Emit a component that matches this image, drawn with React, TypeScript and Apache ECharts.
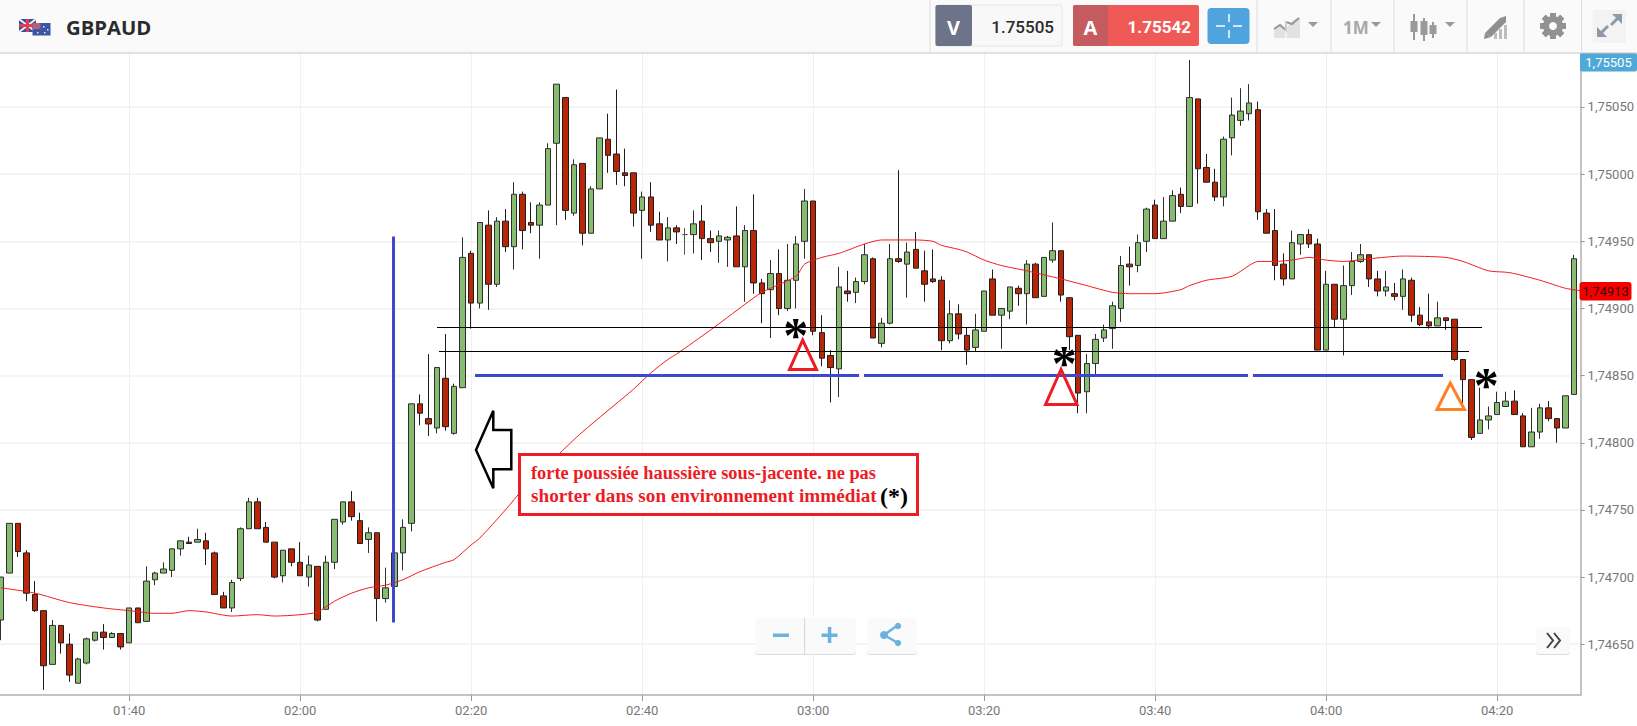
import React, { useEffect, useRef } from "react";
import * as echarts from "echarts";

const symbolName = "GBPAUD";
const bidPrice = "1.75505";
const askPrice = "1.75542";
const bidTag = "1,75505";
const lastTag = "1,74913";
const noteLine1 = "forte poussiée haussière sous-jacente. ne pas";
const noteLine2 = "shorter dans son environnement immédiat";
const firstMinute = 85; // 01:25
const timeTicks = [100, 120, 140, 160, 180, 200, 220, 240, 260];
const priceTicks = [1.7465, 1.747, 1.7475, 1.748, 1.7485, 1.749, 1.7495, 1.75, 1.7505];

// [open, close, low, high] in 1e-5 price units, one candle per minute from 01:25
const candleRows = [
  [174668,174700,174653,174700],[174703,174740,174703,174740],[174740,174719,174715,174740],[174718,174688,174682,174720],
  [174687,174675,174674,174697],[174675,174634,174616,174675],[174635,174664,174635,174668],[174664,174651,174643,174664],
  [174650,174627,174622,174658],[174621,174639,174621,174640],[174636,174654,174635,174655],[174653,174659,174652,174659],
  [174659,174655,174646,174665],[174655,174658,174655,174659],[174658,174648,174646,174658],[174651,174677,174651,174677],
  [174677,174666,174666,174677],[174667,174697,174667,174708],[174698,174703,174694,174704],[174703,174706,174703,174711],
  [174705,174721,174700,174721],[174721,174727,174716,174727],[174726,174725,174725,174730],[174726,174728,174726,174736],
  [174727,174721,174709,174733],[174718,174687,174687,174719],[174686,174677,174677,174689],[174677,174696,174674,174698],
  [174699,174736,174697,174737],[174736,174756,174736,174759],[174756,174736,174736,174759],[174737,174726,174726,174741],
  [174726,174700,174699,174726],[174701,174720,174696,174720],[174721,174711,174708,174721],[174711,174701,174701,174726],
  [174700,174709,174693,174716],[174708,174668,174667,174708],[174676,174711,174676,174716],[174711,174743,174706,174743],
  [174741,174756,174739,174756],[174756,174745,174742,174764],[174742,174725,174725,174748],[174728,174733,174718,174737],
  [174733,174684,174667,174733],[174684,174692,174681,174707],[174693,174718,174693,174739],[174718,174737,174705,174743],
  [174740,174829,174734,174829],[174829,174822,174813,174836],[174818,174814,174805,174866],[174811,174856,174807,174856],
  [174848,174812,174809,174881],[174807,174842,174806,174844],[174841,174938,174841,174953],[174941,174904,174885,174943],
  [174904,174964,174900,174964],[174962,174918,174899,174973],[174918,174965,174916,174968],[174965,174946,174942,174974],
  [174946,174985,174929,174994],[174985,174958,174944,174987],[174964,174962,174956,174979],[174962,174977,174937,174979],
  [174977,175019,174977,175023],[175023,175067,174962,175067],[175057,174973,174966,175057],[174971,175007,174969,175011],
  [175008,174956,174947,175008],[174956,174989,174956,174991],[174989,175027,174989,175027],[175026,175014,175001,175045],
  [175015,175002,174992,175063],[175001,174999,174991,175019],[175001,174971,174961,175001],[174973,174983,174937,174987],
  [174983,174962,174957,174994],[174963,174951,174951,174972],[174951,174960,174935,174968],[174960,174957,174948,174962],
  [174955,174955,174940,174960],[174955,174963,174941,174973],[174965,174952,174936,174977],[174952,174949,174942,174958],
  [174950,174954,174934,174958],[174951,174953,174931,174954],[174954,174931,174931,174976],[174931,174958,174905,174962],
  [174958,174919,174911,174985],[174919,174911,174889,174922],[174914,174926,174878,174936],[174926,174900,174895,174944],
  [174900,174921,174898,174948],[174921,174948,174900,174954],[174950,174980,174937,174989],[174980,174883,174880,174980],
  [174882,174863,174857,174895],[174865,174856,174830,174869],[174855,174916,174834,174931],[174913,174911,174905,174928],
  [174912,174920,174904,174923],[174920,174940,174918,174948],[174937,174878,174878,174938],[174874,174889,174871,174893],
  [174889,174937,174888,174948],[174937,174935,174934,175003],[174933,174942,174908,174949],[174944,174930,174930,174957],
  [174928,174918,174905,174943],[174922,174920,174919,174944],[174921,174876,174869,174924],[174876,174896,174874,174906],
  [174896,174881,174877,174903],[174880,174869,174858,174886],[174871,174884,174868,174896],[174883,174913,174883,174913],
  [174922,174895,174895,174929],[174895,174900,174870,174900],[174898,174916,174892,174916],[174915,174911,174902,174917],
  [174911,174933,174888,174936],[174933,174908,174908,174934],[174909,174938,174909,174938],[174936,174943,174934,174964],
  [174943,174910,174905,174943],[174908,174879,174869,174908],[174880,174837,174822,174880],[174838,174859,174822,174866],
  [174859,174877,174851,174881],[174878,174884,174875,174888],[174885,174902,174870,174905],[174900,174932,174890,174939],
  [174933,174931,174917,174946],[174932,174949,174927,174955],[174950,174974,174942,174975],[174977,174952,174952,174981],
  [174952,174965,174952,174983],[174965,174984,174965,174988],[174985,174976,174971,174990],[174976,175057,174976,175085],
  [175056,175004,174978,175056],[175005,174994,174994,175015],[174994,174983,174980,175004],[174983,175026,174976,175028],
  [175027,175044,175014,175057],[175040,175047,175036,175064],[175045,175053,175040,175067],[175048,174972,174966,175054],
  [174971,174956,174956,174974],[174958,174932,174921,174974],[174933,174922,174917,174941],[174922,174949,174922,174958],
  [174948,174955,174940,174955],[174955,174948,174945,174959],[174948,174869,174869,174952],[174869,174918,174869,174928],
  [174918,174892,174886,174918],[174892,174917,174865,174932],[174917,174935,174910,174942],[174935,174940,174934,174948],
  [174940,174922,174916,174940],[174922,174913,174909,174928],[174913,174916,174909,174928],[174911,174909,174906,174919],
  [174909,174922,174899,174929],[174921,174895,174890,174923],[174895,174888,174887,174901],[174890,174887,174885,174911],
  [174887,174893,174887,174905],[174893,174891,174884,174893],[174892,174862,174861,174892],[174862,174847,174824,174862],
  [174847,174804,174802,174847],[174807,174817,174807,174841],[174817,174820,174810,174827],[174821,174830,174821,174838],
  [174827,174831,174827,174838],[174831,174821,174821,174839],[174820,174797,174797,174822],[174797,174808,174797,174826],
  [174808,174826,174803,174829],[174826,174818,174816,174831],[174818,174811,174800,174818],[174811,174835,174811,174835],
  [174836,174937,174836,174940],
];

// moving average: [minute, value in 1e-5 price units]
const maPoints = [
  [85,174692],[89,174688],[93,174681],[97,174677],[100,174675],[103,174673],[105,174673],[107,174675],[109,174674],[112,174671],
  [115,174672],[117,174671],[120,174672],[122,174674],[124,174682],[126,174688],[128,174692],[130,174694],[132,174698],[134,174704],
  [137,174711],[138,174713],[140,174724],[141,174729],[144,174750],[146,174765],[150,174790],[153,174808],[159,174840],[161,174852],
  [163,174862],[164,174866],[168,174884],[172,174903],[174,174912],[178,174924],[179,174933],[181,174938],[183,174941],[186,174948],
  [188,174951],[192,174951],[194,174950],[195,174947],[197,174944],[198,174942],[200,174936],[202,174932],[205,174928],[207,174925],
  [209,174922],[212,174917],[215,174912],[217,174911],[220,174911],[223,174914],[224,174917],[226,174921],[229,174924],[231,174932],
  [232,174935],[234,174935],[236,174936],[238,174938],[240,174936],[242,174935],[245,174937],[249,174939],[254,174938],[256,174935],
  [259,174928],[261,174927],[262,174926],[265,174921],[268,174915],[270,174913],
];

const priceOf = (p: number) => p / 100000;
const hhmm = (m: number) => {
  const h = Math.floor(m / 60);
  const mm = m % 60;
  return `${String(h).padStart(2, "0")}:${String(mm).padStart(2, "0")}`;
};

const Z = 30;
const txt = (text: string, x: number, y: number, font: string, fill: string, align = "left") => ({
  type: "text", x, y, z: Z,
  style: { text, font, fill, align, verticalAlign: "middle", textAlign: align, textVerticalAlign: "middle" },
});
const box = (x: number, y: number, w: number, h: number, fill: string, extra: any = {}) => ({
  type: "rect", z: extra.z ?? Z, shape: { x, y, width: w, height: h, r: extra.r ?? 0 },
  style: { fill, stroke: extra.stroke ?? "none", lineWidth: extra.lw ?? 0 },
});
const seg = (x1: number, y1: number, x2: number, y2: number, stroke: string, lineWidth = 1) => ({
  type: "line", z: Z, shape: { x1, y1, x2, y2 }, style: { stroke, lineWidth },
});
const poly = (points: number[][], fill: string, stroke = "none", lineWidth = 0, z = Z) => ({
  type: "polygon", z, shape: { points }, style: { fill, stroke, lineWidth, lineJoin: "miter" },
});
const caret = (cx: number) => poly([[cx - 5, 22], [cx + 5, 22], [cx, 27]], "#9a9a9a");

const headerGraphics = () => {
  const g: any[] = [];
  g.push(box(0, 0, 1637, 53, "#fafafa"));
  g.push(seg(0, 53, 1637, 53, "#c4c4c4", 1));
  // flags
  g.push(box(19, 19, 17, 13, "#3c4f9c"));
  g.push(seg(19, 19, 36, 32, "#f2f2f2", 2));
  g.push(seg(36, 19, 19, 32, "#f2f2f2", 2));
  g.push(box(19, 24, 17, 3, "#e0414f"));
  g.push(box(26, 19, 3, 13, "#e0414f"));
  g.push(box(32.5, 23, 18, 12.5, "#3b55a5"));
  g.push(box(32.5, 23, 8, 6, "#b0627e"));
  [[43, 26], [47, 29], [44, 32], [37, 32]].forEach(([x, y]) => g.push(box(x, y, 1.5, 1.5, "#e8e8f4")));
  g.push(txt(symbolName, 66, 27, "700 20.3px 'Open Sans'", "#2b2b2b"));
  [930, 1257, 1331, 1394, 1467, 1524, 1581.5].forEach((x) => g.push(seg(x, 0, x, 53, "#dedede", 1)));
  // bid box
  g.push(box(935.5, 5, 126.5, 41, "#f8f8f8", { stroke: "#e6e6e6", lw: 1, r: 2 }));
  g.push(box(935.5, 5, 36.5, 41, "#6d7388", { r: 2 }));
  g.push(txt("V", 953.5, 27, "700 20px 'Open Sans'", "#ffffff", "center"));
  g.push(txt(bidPrice, 1054, 26.5, "500 17px Roboto", "#2b2b2b", "right"));
  // ask box
  g.push(box(1073, 5, 126, 41, "#f05a56", { r: 2 }));
  g.push(box(1073, 5, 35, 41, "#c45b5e", { r: 2 }));
  g.push(txt("A", 1090.5, 27, "700 20px 'Open Sans'", "#ffffff", "center"));
  g.push(txt(askPrice, 1191, 26.5, "700 17px Roboto", "#ffffff", "right"));
  // crosshair button
  g.push(box(1207.5, 8, 42, 36, "#4fa3de", { r: 4 }));
  g.push(seg(1216, 26, 1225, 26, "#ffffff", 1.5), seg(1233, 26, 1242, 26, "#ffffff", 1.5));
  g.push(seg(1229, 14, 1229, 22, "#ffffff", 1.5), seg(1229, 30, 1229, 38, "#ffffff", 1.5));
  // area-chart icon
  g.push(poly([[1274, 38], [1274, 28], [1280, 24], [1286, 29], [1293, 20], [1300, 17], [1300, 38]], "#e2e2e2"));
  g.push({ type: "polyline", z: Z, shape: { points: [[1274, 29], [1280, 25], [1286, 30], [1286, 22], [1292, 24], [1299, 18]] }, style: { stroke: "#999", lineWidth: 2, fill: "none" } });
  g.push(seg(1286, 18, 1286, 39, "#ffffff", 1), caret(1313));
  g.push(txt("1M", 1343, 27, "700 17px 'Open Sans'", "#a8a8a8"), caret(1376));
  // candle icon
  [[1414, 14, 40, 21, 32], [1424, 18, 41, 21, 35], [1433, 22, 38, 25, 34]].forEach(([x, y1, y2, b1, b2]) => {
    g.push(seg(x, y1, x, y2, "#9a9a9a", 2), box(x - 3.5, b1, 7, b2 - b1, "#9a9a9a"));
  });
  g.push(caret(1450));
  // pen icon
  g.push(poly([[1485, 33], [1500, 18], [1506, 16], [1506, 22], [1491, 37]], "#8f8f8f"));
  g.push(poly([[1485, 33], [1491, 37], [1484, 39]], "#8f8f8f"));
  g.push(box(1494, 33, 3, 6, "#bdbdbd"), box(1499, 29, 3, 10, "#bdbdbd"), box(1504, 25, 3, 14, "#bdbdbd"));
  // gear
  for (let i = 0; i < 8; i++) {
    g.push({ type: "rect", z: Z, x: 1553, y: 26, rotation: (i * Math.PI) / 4, shape: { x: -2.8, y: -13, width: 5.6, height: 26 }, style: { fill: "#929292" } });
  }
  g.push({ type: "circle", z: Z, shape: { cx: 1553, cy: 26, r: 7.5 }, style: { fill: "none", stroke: "#929292", lineWidth: 5 } });
  g.push({ type: "circle", z: Z, shape: { cx: 1553, cy: 26, r: 4 }, style: { fill: "#fafafa" } });
  // expand
  g.push(box(1592.5, 10, 33.5, 33, "#f3f3f3"));
  g.push(poly([[1597, 37], [1597, 27], [1607, 37]], "#8f9aa8"), seg(1601, 33, 1608, 26, "#8f9aa8", 3));
  g.push(poly([[1622, 14], [1622, 24], [1612, 14]], "#8f9aa8"), seg(1618, 18, 1611, 25, "#8f9aa8", 3));
  return g;
};

const annotationGraphics = () => {
  const g: any[] = [];
  const blue = "#3f48cc";
  g.push(seg(393.5, 236.5, 393.5, 622.5, blue, 3));
  g.push(seg(437, 327.5, 1482, 327.5, "#000000", 1));
  g.push(seg(439, 351.5, 1469, 351.5, "#000000", 1));
  g.push(seg(475, 375.5, 859, 375.5, blue, 3), seg(864, 375.5, 1248, 375.5, blue, 3), seg(1253, 375.5, 1443, 375.5, blue, 3));
  const tri = (a: number[], b: number[], c: number[], color: string) => poly([a, b, c], "none", color, 3);
  g.push(tri([802.7, 340], [789.5, 369.5], [816.5, 369.5], "#ed1c24"));
  g.push(tri([1061, 369.5], [1045.5, 404.5], [1077, 404.5], "#ed1c24"));
  g.push(tri([1450.3, 383], [1437, 409.5], [1464.5, 409.5], "#ff7f27"));
  [[795.7, 334.5], [1064.3, 363], [1486.3, 385]].forEach(([x, y]) =>
    g.push(txt("*", x, y, "700 50px 'Liberation Serif'", "#000000", "center"))
  );
  g.push(poly([[476, 450], [493.3, 410.7], [493.3, 430], [511.3, 430], [511.3, 469.3], [493.3, 469.3], [493.3, 488.3]], "#ffffff", "#000000", 2.5));
  g.push(box(519.5, 454.5, 398, 60, "#ffffff", { stroke: "#ed1c24", lw: 3 }));
  g.push(txt(noteLine1, 531, 472.5, "700 18.4px 'Liberation Serif'", "#ed1c24"));
  g.push(txt(noteLine2, 531, 495.5, "700 19.2px 'Liberation Serif'", "#ed1c24"));
  g.push(txt("(*)", 880, 495.5, "700 24px 'Liberation Serif'", "#000000"));
  // zoom / share / pan buttons
  g.push(box(755, 619, 101, 36, "#dcdcdc", { r: 3 }), box(755, 618, 101, 36, "#fafafa", { r: 3 }));
  g.push(seg(804.6, 618, 804.6, 654, "#d4d4d4", 1));
  g.push(box(773, 633.5, 16, 3.5, "#6cb2de"), box(821.5, 633.5, 16, 3.5, "#6cb2de"), box(827.8, 627, 3.5, 16, "#6cb2de"));
  g.push(box(867, 619, 50, 36, "#dcdcdc", { r: 3 }), box(867, 618, 50, 36, "#fafafa", { r: 3 }));
  g.push(seg(884, 635, 898, 625, "#6cb2de", 2.5), seg(884, 635, 898, 643, "#6cb2de", 2.5));
  [[884, 635, 4], [898, 626, 3.2], [898, 643, 3.2]].forEach(([cx, cy, r]) =>
    g.push({ type: "circle", z: Z, shape: { cx, cy, r }, style: { fill: "#6cb2de" } })
  );
  g.push(box(1536, 628, 34, 27, "#dcdcdc", { r: 3 }), box(1536, 627, 34, 27, "#fafafa", { r: 3 }));
  [1547, 1554].forEach((x) =>
    g.push({ type: "polyline", z: Z, shape: { points: [[x, 633], [x + 6, 640.5], [x, 648]] }, style: { stroke: "#444444", lineWidth: 2, fill: "none" } })
  );
  // price tags
  g.push(box(1580, 53, 57, 18.5, "#4ea8d8", { r: 2 }));
  g.push(txt(bidTag, 1608.5, 62.5, "13px Roboto", "#ffffff", "center"));
  g.push(box(1579.5, 282, 52, 18.5, "#f50000", { r: 3 }));
  g.push(txt(lastTag, 1605.5, 291.5, "13px Roboto", "#3a0a0a", "center"));
  return g;
};

export default function App() {
  const ref = useRef<HTMLDivElement>(null);
  useEffect(() => {
    document.body.style.margin = "0";
    const chart = echarts.init(ref.current!, undefined, { renderer: "svg" });
    const candleData = candleRows.map((r, i) => [firstMinute + i, priceOf(r[0]), priceOf(r[1]), priceOf(r[2]), priceOf(r[3])]);
    const maData = maPoints.map(([m, v]) => [m, priceOf(v)]);
    const labelStyle = { color: "#777777", fontFamily: "Roboto", fontSize: 13 };
    chart.setOption({
      animation: false,
      backgroundColor: "#ffffff",
      grid: { left: 0, right: 55.4, top: 53, bottom: 31, containLabel: false },
      xAxis: {
        type: "value",
        min: 84.883,
        max: 269.76,
        axisLine: { show: true, onZero: false, lineStyle: { color: "#b0b0b0", width: 1.5 } },
        axisTick: { show: true, length: 6, customValues: timeTicks, lineStyle: { color: "#999999" } },
        axisLabel: { ...labelStyle, margin: 9, customValues: timeTicks, formatter: (v: number) => hhmm(v) },
        splitLine: { show: true, lineStyle: { color: "#f0f0f0", width: 1 } },
      },
      yAxis: {
        type: "value",
        position: "right",
        min: 1.746122,
        max: 1.750902,
        axisLine: { show: true, onZero: false, lineStyle: { color: "#b0b0b0", width: 1.5 } },
        axisTick: { show: true, length: 4, customValues: priceTicks, lineStyle: { color: "#999999" } },
        axisLabel: { ...labelStyle, margin: 7, customValues: priceTicks, formatter: (v: number) => v.toFixed(5).replace(".", ",") },
        splitLine: { show: true, lineStyle: { color: "#f0f0f0", width: 1.5 } },
      },
      series: [
        {
          type: "candlestick",
          data: candleData,
          barWidth: 6,
          encode: { x: 0, y: [1, 2, 3, 4] },
          itemStyle: {
            color: "#86bb70",
            color0: "#b62607",
            borderColor: "#2e2e2e",
            borderColor0: "#1e1e1e",
            borderColorDoji: "#555555",
            borderWidth: 1,
          },
          z: 3,
        },
        {
          type: "line",
          data: maData,
          showSymbol: false,
          smooth: 0.25,
          lineStyle: { color: "#f41c1c", width: 1 },
          z: 5,
        },
      ],
      graphic: { elements: [...annotationGraphics(), ...headerGraphics()] },
    });
    return () => chart.dispose();
  }, []);
  return <div ref={ref} style={{ position: "absolute", left: 0, top: 0, width: 1637, height: 726, background: "#fff" }} />;
}
